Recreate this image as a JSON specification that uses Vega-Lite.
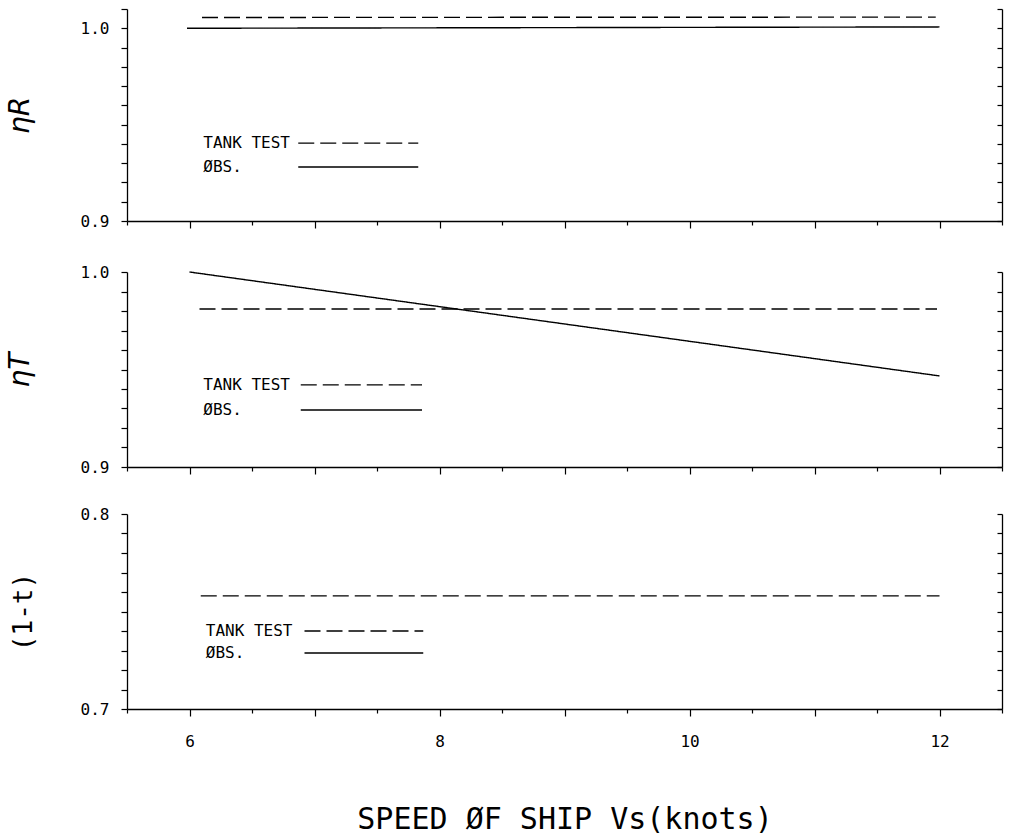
{
  "$schema": "https://vega.github.io/schema/vega-lite/v6.json",
  "background": "white",
  "padding": {"left": 6, "top": 1, "right": 5, "bottom": 0},
  "config": {
    "view": {"stroke": null},
    "axis": {"domainColor": "black", "tickColor": "black", "labelColor": "black", "titleColor": "black", "domainWidth": 1.3, "tickWidth": 1.2, "grid": false, "labelFont": "DejaVu Sans Mono", "labelFontSize": 16, "titleFont": "DejaVu Sans", "titleFontWeight": "normal", "labelOverlap": false, "labelFlush": false}
  },
  "datasets": {
    "lines": [
      {"panel": "R", "seg": "tank", "series": "TANK TEST", "x": 6.1, "y": 1.0056},
      {"panel": "R", "seg": "tank", "series": "TANK TEST", "x": 11.97, "y": 1.0058},
      {"panel": "R", "seg": "obs", "series": "ØBS.", "x": 5.98, "y": 1.0},
      {"panel": "R", "seg": "obs", "series": "ØBS.", "x": 12.0, "y": 1.0007},
      {"panel": "R", "seg": "legtank", "series": "TANK TEST", "x": 6.87, "y": 0.9404},
      {"panel": "R", "seg": "legtank", "series": "TANK TEST", "x": 7.83, "y": 0.9404},
      {"panel": "R", "seg": "legobs", "series": "ØBS.", "x": 6.87, "y": 0.928},
      {"panel": "R", "seg": "legobs", "series": "ØBS.", "x": 7.83, "y": 0.928},
      {"panel": "T", "seg": "tank", "series": "TANK TEST", "x": 6.08, "y": 0.981},
      {"panel": "T", "seg": "tank", "series": "TANK TEST", "x": 11.98, "y": 0.981},
      {"panel": "T", "seg": "obs", "series": "ØBS.", "x": 6.0, "y": 1.0},
      {"panel": "T", "seg": "obs", "series": "ØBS.", "x": 12.0, "y": 0.9467},
      {"panel": "T", "seg": "legtank", "series": "TANK TEST", "x": 6.89, "y": 0.9421},
      {"panel": "T", "seg": "legtank", "series": "TANK TEST", "x": 7.86, "y": 0.9421},
      {"panel": "T", "seg": "legobs", "series": "ØBS.", "x": 6.89, "y": 0.9292},
      {"panel": "T", "seg": "legobs", "series": "ØBS.", "x": 7.86, "y": 0.9292},
      {"panel": "t", "seg": "tank", "series": "TANK TEST", "x": 6.09, "y": 0.758},
      {"panel": "t", "seg": "tank", "series": "TANK TEST", "x": 12.0, "y": 0.758},
      {"panel": "t", "seg": "legtank", "series": "TANK TEST", "x": 6.92, "y": 0.74},
      {"panel": "t", "seg": "legtank", "series": "TANK TEST", "x": 7.87, "y": 0.74},
      {"panel": "t", "seg": "legobs", "series": "ØBS.", "x": 6.92, "y": 0.7287},
      {"panel": "t", "seg": "legobs", "series": "ØBS.", "x": 7.87, "y": 0.7287}
    ],
    "labels": [
      {"panel": "R", "text": "TANK TEST", "x": 6.11, "y": 0.9404},
      {"panel": "R", "text": "ØBS.", "x": 6.11, "y": 0.928},
      {"panel": "T", "text": "TANK TEST", "x": 6.11, "y": 0.9421},
      {"panel": "T", "text": "ØBS.", "x": 6.11, "y": 0.9292},
      {"panel": "t", "text": "TANK TEST", "x": 6.13, "y": 0.74},
      {"panel": "t", "text": "ØBS.", "x": 6.13, "y": 0.7287}
    ]
  },
  "bounds": "flush",
  "spacing": 51,
  "vconcat": [
    {
      "width": 875, "height": 212,
      "layer": [
        {
          "data": {"name": "lines"},
          "transform": [{"filter": "datum.panel === 'R'"}],
          "mark": {"type": "line", "color": "black", "strokeWidth": 1.4},
          "encoding": {
            "x": {"field": "x", "type": "quantitative", "scale": {"domain": [5.5, 12.5], "nice": false, "zero": false},
                  "axis": {"values": [5.5, 6, 6.5, 7, 7.5, 8, 8.5, 9, 9.5, 10, 10.5, 11, 11.5, 12, 12.5], "labels": false, "title": null, "tickSize": {"condition": {"test": "datum.value % 1 === 0", "value": 7}, "value": 4}}},
            "y": {"field": "y", "type": "quantitative", "scale": {"domain": [0.9, 1.01], "nice": false, "zero": false},
                  "axis": {"orient": "left", "values": [0.9, 0.91, 0.92, 0.93, 0.94, 0.95, 0.96, 0.97, 0.98, 0.99, 1.0, 1.01], "labelExpr": "abs(datum.value-0.9)<1e-6 || abs(datum.value-1)<1e-6 ? format(datum.value,'.1f') : ''", "labelFontSize": 16, "tickSize": 6, "labelPadding": 12, "title": "ηR", "titleFontSize": 28, "titleFontStyle": "italic", "titlePadding": 46}},
            "detail": {"field": "seg"},
            "strokeDash": {"field": "series", "type": "nominal", "scale": {"domain": ["TANK TEST", "ØBS."], "range": [[16, 6], [1, 0]]}, "legend": null}
          }
        },
        {
          "data": {"name": "labels"},
          "transform": [{"filter": "datum.panel === 'R'"}],
          "mark": {"type": "text", "align": "left", "baseline": "middle", "font": "DejaVu Sans Mono", "fontSize": 16, "color": "black"},
          "encoding": {
            "x": {"field": "x", "type": "quantitative"},
            "y": {"field": "y", "type": "quantitative", "axis": {"orient": "right", "values": [0.9, 0.91, 0.92, 0.93, 0.94, 0.95, 0.96, 0.97, 0.98, 0.99, 1.0, 1.01], "labels": false, "tickSize": -5, "title": null}},
            "text": {"field": "text"}
          }
        }
      ],
      "resolve": {"axis": {"y": "independent"}}
    },
    {
      "bounds": "flush",
      "spacing": 47,
      "vconcat": [
        {
          "width": 875, "height": 195,
          "layer": [
            {
              "data": {"name": "lines"},
              "transform": [{"filter": "datum.panel === 'T'"}],
              "mark": {"type": "line", "color": "black", "strokeWidth": 1.4},
              "encoding": {
                "x": {"field": "x", "type": "quantitative", "scale": {"domain": [5.5, 12.5], "nice": false, "zero": false},
                      "axis": {"values": [5.5, 6, 6.5, 7, 7.5, 8, 8.5, 9, 9.5, 10, 10.5, 11, 11.5, 12, 12.5], "labels": false, "title": null, "tickSize": {"condition": {"test": "datum.value % 1 === 0", "value": 7}, "value": 4}}},
                "y": {"field": "y", "type": "quantitative", "scale": {"domain": [0.9, 1.0], "nice": false, "zero": false},
                      "axis": {"orient": "left", "values": [0.9, 0.91, 0.92, 0.93, 0.94, 0.95, 0.96, 0.97, 0.98, 0.99, 1.0], "labelExpr": "abs(datum.value-0.9)<1e-6 || abs(datum.value-1)<1e-6 ? format(datum.value,'.1f') : ''", "labelFontSize": 16, "tickSize": 6, "labelPadding": 12, "title": "ηT", "titleFontSize": 28, "titleFontStyle": "italic", "titlePadding": 46}},
                "detail": {"field": "seg"},
                "strokeDash": {"field": "series", "type": "nominal", "scale": {"domain": ["TANK TEST", "ØBS."], "range": [[16, 6], [1, 0]]}, "legend": null}
              }
            },
            {
              "data": {"name": "labels"},
              "transform": [{"filter": "datum.panel === 'T'"}],
              "mark": {"type": "text", "align": "left", "baseline": "middle", "font": "DejaVu Sans Mono", "fontSize": 16, "color": "black"},
              "encoding": {
                "x": {"field": "x", "type": "quantitative"},
                "y": {"field": "y", "type": "quantitative", "axis": {"orient": "right", "values": [0.9, 0.91, 0.92, 0.93, 0.94, 0.95, 0.96, 0.97, 0.98, 0.99, 1.0], "labels": false, "tickSize": -5, "title": null}},
                "text": {"field": "text"}
              }
            }
          ],
          "resolve": {"axis": {"y": "independent"}}
        },
        {
          "width": 875, "height": 195,
          "layer": [
            {
              "data": {"name": "lines"},
              "transform": [{"filter": "datum.panel === 't'"}],
              "mark": {"type": "line", "color": "black", "strokeWidth": 1.4},
              "encoding": {
                "x": {"field": "x", "type": "quantitative", "scale": {"domain": [5.5, 12.5], "nice": false, "zero": false},
                      "axis": {"values": [5.5, 6, 6.5, 7, 7.5, 8, 8.5, 9, 9.5, 10, 10.5, 11, 11.5, 12, 12.5], "labelExpr": "datum.value % 2 === 0 ? format(datum.value,'d') : ''", "labelFontSize": 16, "labelPadding": 17, "title": "SPEED ØF SHIP Vs(knots)", "titleFont": "DejaVu Sans Mono", "titleFontSize": 30, "titlePadding": 55, "tickSize": {"condition": {"test": "datum.value % 1 === 0", "value": 7}, "value": 4}}},
                "y": {"field": "y", "type": "quantitative", "scale": {"domain": [0.7, 0.8], "nice": false, "zero": false},
                      "axis": {"orient": "left", "values": [0.7, 0.71, 0.72, 0.73, 0.74, 0.75, 0.76, 0.77, 0.78, 0.79, 0.8], "labelExpr": "abs(datum.value-0.7)<1e-6 || abs(datum.value-0.8)<1e-6 ? format(datum.value,'.1f') : ''", "labelFontSize": 16, "tickSize": 6, "labelPadding": 12, "title": "(1-t)", "titleFont": "DejaVu Sans Mono", "titleFontSize": 26, "titlePadding": 44}},
                "detail": {"field": "seg"},
                "strokeDash": {"field": "series", "type": "nominal", "scale": {"domain": ["TANK TEST", "ØBS."], "range": [[16, 6], [1, 0]]}, "legend": null}
              }
            },
            {
              "data": {"name": "labels"},
              "transform": [{"filter": "datum.panel === 't'"}],
              "mark": {"type": "text", "align": "left", "baseline": "middle", "font": "DejaVu Sans Mono", "fontSize": 16, "color": "black"},
              "encoding": {
                "x": {"field": "x", "type": "quantitative"},
                "y": {"field": "y", "type": "quantitative", "axis": {"orient": "right", "values": [0.7, 0.71, 0.72, 0.73, 0.74, 0.75, 0.76, 0.77, 0.78, 0.79, 0.8], "labels": false, "tickSize": -5, "title": null}},
                "text": {"field": "text"}
              }
            }
          ],
          "resolve": {"axis": {"y": "independent"}}
        }
      ]
    }
  ]
}
